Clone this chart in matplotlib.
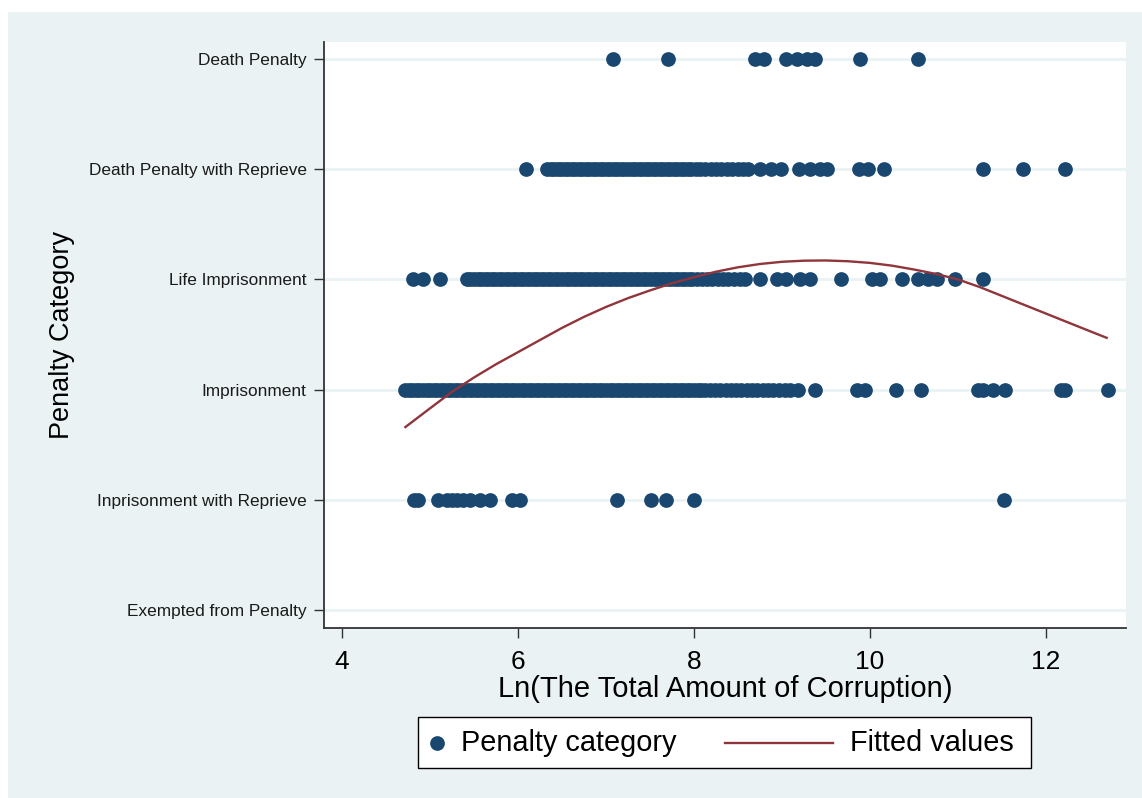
import matplotlib
matplotlib.use("Agg")
import matplotlib.pyplot as plt
from matplotlib.lines import Line2D
from matplotlib.patches import Rectangle

plt.rcParams['font.family'] = ['Liberation Sans', 'DejaVu Sans']

NAVY = '#1A476F'
MAROON = '#90353B'
REGION = '#EAF2F3'
AXCOL = '#333333'

categories = ['Exempted from Penalty', 'Inprisonment with Reprieve', 'Imprisonment',
              'Life Imprisonment', 'Death Penalty with Reprieve', 'Death Penalty']

# ln(amount) of each case, grouped by penalty category
x_exempted = []
x_impr_reprieve = [4.82, 4.86, 5.09, 5.19, 5.25, 5.31, 5.38, 5.45, 5.57, 5.68,
                   5.93, 6.02, 7.12, 7.51, 7.68, 8.0, 11.52]
x_imprisonment = [4.72, 4.76, 4.80, 4.84, 4.88, 4.92, 4.96, 5.00, 5.04, 5.08,
                  5.12, 5.16, 5.20, 5.24, 5.28, 5.32, 5.36, 5.40, 5.44, 5.48,
                  5.52, 5.56, 5.60, 5.64, 5.68, 5.72, 5.76, 5.80, 5.84, 5.88,
                  5.92, 5.96, 6.00, 6.04, 6.08, 6.12, 6.16, 6.20, 6.24, 6.28,
                  6.32, 6.36, 6.40, 6.44, 6.48, 6.52, 6.56, 6.60, 6.64, 6.68,
                  6.72, 6.76, 6.80, 6.84, 6.88, 6.92, 6.96, 7.00, 7.04, 7.08,
                  7.12, 7.16, 7.20, 7.24, 7.28, 7.32, 7.36, 7.40, 7.44, 7.48,
                  7.52, 7.56, 7.60, 7.64, 7.68, 7.72, 7.76, 7.80, 7.84, 7.88,
                  7.92, 7.96, 8.00, 8.04, 8.08, 8.13, 8.18, 8.24, 8.30, 8.36,
                  8.42, 8.48, 8.53, 8.60, 8.66, 8.72, 8.78, 8.84, 8.90, 8.97,
                  9.04, 9.09, 9.18, 9.38, 9.85, 9.94, 10.30, 10.58, 11.23, 11.28,
                  11.40, 11.53, 12.17, 12.22, 12.70]
x_life = [4.81, 4.92, 5.11, 5.42, 5.46, 5.50, 5.54, 5.58, 5.62, 5.66, 5.70,
          5.74, 5.78, 5.82, 5.86, 5.90, 5.94, 5.98, 6.02, 6.06, 6.10, 6.14,
          6.18, 6.22, 6.26, 6.30, 6.34, 6.38, 6.42, 6.46, 6.50, 6.54, 6.58,
          6.62, 6.66, 6.70, 6.74, 6.78, 6.82, 6.86, 6.90, 6.94, 6.98, 7.02,
          7.06, 7.10, 7.14, 7.18, 7.22, 7.26, 7.30, 7.34, 7.38, 7.42, 7.46,
          7.50, 7.54, 7.58, 7.62, 7.66, 7.70, 7.74, 7.78, 7.82, 7.86, 7.90,
          7.94, 7.98, 8.03, 8.09, 8.15, 8.21, 8.27, 8.33, 8.39, 8.45, 8.52,
          8.58, 8.75, 8.94, 9.05, 9.20, 9.32, 9.67, 10.02, 10.11, 10.36, 10.55,
          10.66, 10.76, 10.97, 11.29]
x_dp_reprieve = [6.09, 6.33, 6.37, 6.41, 6.45, 6.49, 6.53, 6.57, 6.61, 6.65,
                 6.69, 6.73, 6.77, 6.81, 6.85, 6.89, 6.93, 6.97, 7.01, 7.05,
                 7.09, 7.13, 7.17, 7.21, 7.25, 7.29, 7.33, 7.37, 7.41, 7.45,
                 7.49, 7.53, 7.57, 7.61, 7.65, 7.69, 7.73, 7.77, 7.81, 7.85,
                 7.89, 7.93, 7.97, 8.02, 8.07, 8.13, 8.19, 8.25, 8.31, 8.37,
                 8.43, 8.50, 8.56, 8.61, 8.75, 8.88, 8.99, 9.19, 9.32, 9.43,
                 9.51, 9.88, 9.98, 10.16, 11.28, 11.74, 12.22]
x_death = [7.08, 7.7, 8.69, 8.8, 9.05, 9.17, 9.28, 9.38, 9.89, 10.55]

groups = [x_exempted, x_impr_reprieve, x_imprisonment, x_life, x_dp_reprieve, x_death]

# quadratic fit of category on ln(amount)
fit_x = [4.72, 5.0, 5.25, 5.5, 5.75, 6.0, 6.25, 6.5, 6.75, 7.0, 7.25, 7.5,
         7.75, 8.0, 8.25, 8.5, 8.75, 9.0, 9.25, 9.5, 9.75, 10.0, 10.25, 10.5,
         10.75, 11.0, 11.25, 11.5, 11.75, 12.0, 12.25, 12.5, 12.69]
fit_y = [1.66, 1.83, 1.98, 2.11, 2.23, 2.34, 2.45, 2.56, 2.66, 2.75, 2.83,
         2.90, 2.965, 3.02, 3.07, 3.11, 3.14, 3.16, 3.17, 3.172, 3.165, 3.15,
         3.125, 3.09, 3.05, 3.0, 2.93, 2.85, 2.77, 2.69, 2.61, 2.53, 2.47]

x_ticks = [4, 6, 8, 10, 12]

fig = plt.figure(figsize=(11.42, 7.98), dpi=100, facecolor='white')
W, H = 1142, 798
fig.add_artist(Rectangle((8 / W, 0), 1 - 8 / W, 1 - 12 / H, transform=fig.transFigure,
                         facecolor=REGION, edgecolor='none', zorder=-10))

ax = fig.add_axes([324 / W, 1 - 628 / H, 802 / W, 586 / H])
ax.set_facecolor('white')

for code, xs in enumerate(groups):
    ax.plot(xs, [code] * len(xs), 'o', color=NAVY, markersize=10.6,
            markeredgewidth=0, linestyle='none', zorder=3)
ax.plot(fit_x, fit_y, color=MAROON, linewidth=1.7, zorder=4)

ax.set_xlim(3.795, 12.91)
ax.set_ylim(-0.164, 5.155)
ax.set_yticks(range(len(categories)))
ax.set_yticklabels(categories, fontsize=12.4, color='#1a1a1a')
ax.set_xticks(x_ticks)
ax.set_xticklabels([str(t) for t in x_ticks], fontsize=19)
ax.yaxis.grid(True, color=REGION, linewidth=2, zorder=0)
ax.set_axisbelow(True)

for s in ['top', 'right']:
    ax.spines[s].set_visible(False)
for s in ['left', 'bottom']:
    ax.spines[s].set_color(AXCOL)
    ax.spines[s].set_linewidth(1.3)
ax.tick_params(axis='y', length=7.5, width=1, color=AXCOL, pad=5)
ax.tick_params(axis='x', length=7.5, width=1, color=AXCOL, pad=8.5)

ax.set_xlabel('Ln(The Total Amount of Corruption)', fontsize=21)
ax.xaxis.set_label_coords(0.5, -0.08)
ax.set_ylabel('Penalty Category', fontsize=19.5)
ax.yaxis.set_label_coords(-0.31, 0.5)

# legend box under the plot
fig.add_artist(Rectangle((418 / W, 1 - 768 / H), 613 / W, 51 / H,
                         transform=fig.transFigure, facecolor='white',
                         edgecolor='black', linewidth=1))
ly = 1 - 743 / H
fig.add_artist(Line2D([437 / W], [ly], marker='o', color=NAVY, markersize=10.6,
                      markeredgewidth=0, linestyle='none', transform=fig.transFigure))
fig.text(461 / W, ly, 'Penalty category', fontsize=20.8, va='center', ha='left')
fig.add_artist(Line2D([725 / W, 833 / W], [ly, ly], color=MAROON, linewidth=1.7,
                      transform=fig.transFigure))
fig.text(850 / W, ly, 'Fitted values', fontsize=20.8, va='center', ha='left')

fig.savefig('out.png', dpi=100, facecolor=fig.get_facecolor())
